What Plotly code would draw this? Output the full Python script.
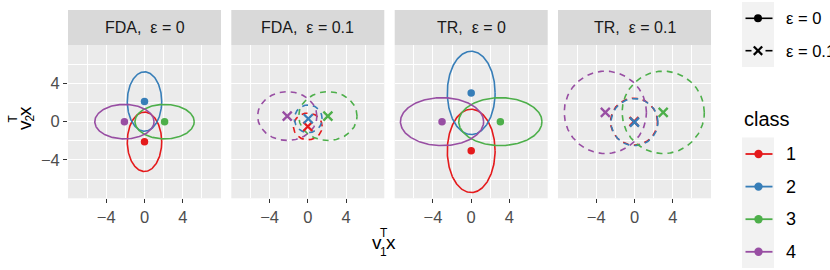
import numpy as np
import plotly.graph_objects as go

# ---------------- data ----------------
panel_titles = ["FDA,\u00a0 ε = 0", "FDA,\u00a0 ε = 0.1", "TR,\u00a0 ε = 0", "TR,\u00a0 ε = 0.1"]
panel_eps = ["0", "0.1", "0", "0.1"]
classes = ["1", "2", "3", "4"]
class_colors = ["#E41A1C", "#377EB8", "#4DAF4A", "#984EA3"]

# class means (x, y) per panel
fda0_cx = [0.0, 0.0, 2.1, -2.1]
fda0_cy = [-2.1, 2.1, 0.0, 0.0]
fda1_cx = [0.0, 0.05, 2.1, -2.15]
fda1_cy = [-0.5, 0.3, 0.58, 0.58]
tr0_cx = [0.0, 0.0, 3.05, -3.05]
tr0_cy = [-3.05, 3.0, 0.0, 0.0]
tr1_cx = [-0.05, 0.0, 3.0, -3.05]
tr1_cy = [0.0, -0.05, 0.97, 0.97]

# ellipse semi-axes (x, y) per panel
fda0_ax = [1.8, 1.8, 3.1, 3.1]
fda0_ay = [3.1, 3.1, 1.8, 1.8]
fda1_ax = [1.5, 1.45, 3.05, 3.1]
fda1_ay = [1.4, 1.45, 2.55, 2.55]
tr0_ax = [2.5, 2.5, 4.35, 4.35]
tr0_ay = [4.35, 4.35, 2.5, 2.5]
tr1_ax = [2.45, 2.45, 4.3, 4.3]
tr1_ay = [2.45, 2.45, 4.3, 4.3]

panels = [
    (fda0_cx, fda0_cy, fda0_ax, fda0_ay),
    (fda1_cx, fda1_cy, fda1_ax, fda1_ay),
    (tr0_cx, tr0_cy, tr0_ax, tr0_ay),
    (tr1_cx, tr1_cy, tr1_ax, tr1_ay),
]

tick_vals = [-4, 0, 4]
tick_text = ["\u22124", "0", "4"]
axis_range = [-8, 8]

# ---------------- layout geometry (pixels) ----------------
W, H = 830, 270
FONT = "Liberation Sans, Arial, sans-serif"
panel_x = [(68, 221), (231.3, 384.3), (394.7, 547.7), (558, 711)]
plot_top, plot_bot = 45, 198.3
strip_top = 10


def px(x):
    return x / W


def py(y):
    return 1 - y / H


fig = go.Figure()
theta = np.linspace(0, 2 * np.pi, 241)

for i, (cx, cy, ax, ay) in enumerate(panels):
    xa = "x" if i == 0 else f"x{i+1}"
    ya = "y" if i == 0 else f"y{i+1}"
    dashed = panel_eps[i] != "0"
    for k in range(4):
        fig.add_trace(go.Scatter(
            x=cx[k] + ax[k] * np.cos(theta), y=cy[k] + ay[k] * np.sin(theta),
            mode="lines", xaxis=xa, yaxis=ya, showlegend=False, hoverinfo="skip",
            line=dict(color=class_colors[k], width=1.6, dash="6px,5px" if dashed else "solid"),
        ))
    for k in range(4):
        if dashed:
            mk = dict(symbol="x-thin", size=9, color=class_colors[k],
                      line=dict(color=class_colors[k], width=2.3))
        else:
            mk = dict(symbol="circle", size=7.5, color=class_colors[k], line=dict(width=0))
        fig.add_trace(go.Scatter(
            x=[cx[k]], y=[cy[k]], mode="markers", xaxis=xa, yaxis=ya,
            showlegend=False, marker=mk, name=classes[k],
        ))

layout = dict(
    width=W, height=H, margin=dict(l=0, r=0, t=0, b=0),
    paper_bgcolor="white", plot_bgcolor="#EBEBEB", showlegend=False,
    font=dict(family=FONT, color="#4D4D4D"),
)
for i in range(4):
    xk = "xaxis" if i == 0 else f"xaxis{i+1}"
    yk = "yaxis" if i == 0 else f"yaxis{i+1}"
    common = dict(
        range=axis_range, tickvals=tick_vals, ticktext=tick_text,
        showgrid=True, gridcolor="white", gridwidth=1.1, zeroline=False,
        ticks="outside", ticklen=4, tickwidth=1.1, tickcolor="#333333",
        tickfont=dict(size=16.5, color="#4D4D4D", family=FONT),
        minor=dict(tick0=2, dtick=4, showgrid=True, gridcolor="white", gridwidth=0.55, ticks=""),
        showline=False, fixedrange=True,
    )
    layout[xk] = dict(common, domain=[px(panel_x[i][0]), px(panel_x[i][1])],
                      anchor="y" if i == 0 else f"y{i+1}")
    layout[yk] = dict(common, domain=[py(plot_bot), py(plot_top)],
                      anchor="x" if i == 0 else f"x{i+1}",
                      showticklabels=(i == 0),
                      ticks="outside" if i == 0 else "")
fig.update_layout(**layout)

shapes = []
annotations = []
# strips
for i in range(4):
    x0, x1 = panel_x[i]
    shapes.append(dict(type="rect", xref="paper", yref="paper",
                       x0=px(x0), x1=px(x1), y0=py(plot_top), y1=py(strip_top),
                       fillcolor="#D9D9D9", line=dict(width=0), layer="below"))
    annotations.append(dict(text=panel_titles[i], xref="paper", yref="paper",
                            x=px((x0 + x1) / 2), y=py((strip_top + plot_top) / 2),
                            xanchor="center", yanchor="middle", showarrow=False,
                            font=dict(size=16, color="#1A1A1A", family=FONT)))

# axis titles (v^T_1 x and v^T_2 x)
def add_txt(t, x, y, size, angle=0, xa="center", ya="middle", color="black"):
    annotations.append(dict(text=t, xref="paper", yref="paper", x=px(x), y=py(y),
                            xanchor=xa, yanchor=ya, showarrow=False, textangle=angle,
                            font=dict(size=size, color=color, family=FONT)))

add_txt("v", 377, 242, 19)
add_txt("x", 390.5, 242, 19)
add_txt("T", 384, 233, 12)
add_txt("1", 383.8, 251.5, 12)

add_txt("v", 24, 125, 19, angle=-90)
add_txt("x", 24, 111, 19, angle=-90)
add_txt("T", 12.5, 119, 12, angle=-90)
add_txt("2", 29, 118.5, 12, angle=-90)

# ---- legend: epsilon ----
kx0, kx1 = 742, 774
shapes.append(dict(type="rect", xref="paper", yref="paper", x0=px(kx0), x1=px(kx1),
                   y0=py(67), y1=py(2), fillcolor="#F2F2F2", line=dict(width=0)))
eps_labels = ["ε = 0", "ε = 0.1"]
key_y = [18.3, 50.7]
for j, lab in enumerate(eps_labels):
    yk = key_y[j]
    if j == 0:
        shapes.append(dict(type="line", xref="paper", yref="paper", x0=px(745.5), x1=px(772.5),
                           y0=py(yk), y1=py(yk), line=dict(color="black", width=1.6)))
        shapes.append(dict(type="circle", xref="paper", yref="paper", x0=px(758 - 4), x1=px(758 + 4),
                           y0=py(yk + 4), y1=py(yk - 4), fillcolor="black", line=dict(width=0)))
    else:
        for a, b in [(745.5, 751.5), (765.5, 772.5)]:
            shapes.append(dict(type="line", xref="paper", yref="paper", x0=px(a), x1=px(b),
                               y0=py(yk), y1=py(yk), line=dict(color="black", width=1.6)))
        for s in (1, -1):
            shapes.append(dict(type="line", xref="paper", yref="paper", x0=px(758 - 4.2), x1=px(758 + 4.2),
                               y0=py(yk - 4.2 * s), y1=py(yk + 4.2 * s), line=dict(color="black", width=2.2)))
    add_txt(lab, 784, yk, 16.5, xa="left", color="black")

# ---- legend: class ----
add_txt("class", 742, 119, 20, xa="left", color="black")
shapes.append(dict(type="rect", xref="paper", yref="paper", x0=px(kx0), x1=px(kx1),
                   y0=py(268), y1=py(137.5), fillcolor="#F2F2F2", line=dict(width=0)))
class_y = [154, 186.6, 219.2, 251.8]
for k in range(4):
    yk = class_y[k]
    shapes.append(dict(type="line", xref="paper", yref="paper", x0=px(745.5), x1=px(772.5),
                       y0=py(yk), y1=py(yk), line=dict(color=class_colors[k], width=1.8)))
    shapes.append(dict(type="circle", xref="paper", yref="paper", x0=px(758.5 - 4.2), x1=px(758.5 + 4.2),
                       y0=py(yk + 4.2), y1=py(yk - 4.2), fillcolor=class_colors[k], line=dict(width=0)))
    add_txt(classes[k], 784, yk, 18, xa="left", color="black")

fig.update_layout(shapes=shapes, annotations=annotations)
fig.write_html("out.html", config={"displayModeBar": False},
               post_script="document.body.style.margin='0';document.body.style.overflow='hidden';")
